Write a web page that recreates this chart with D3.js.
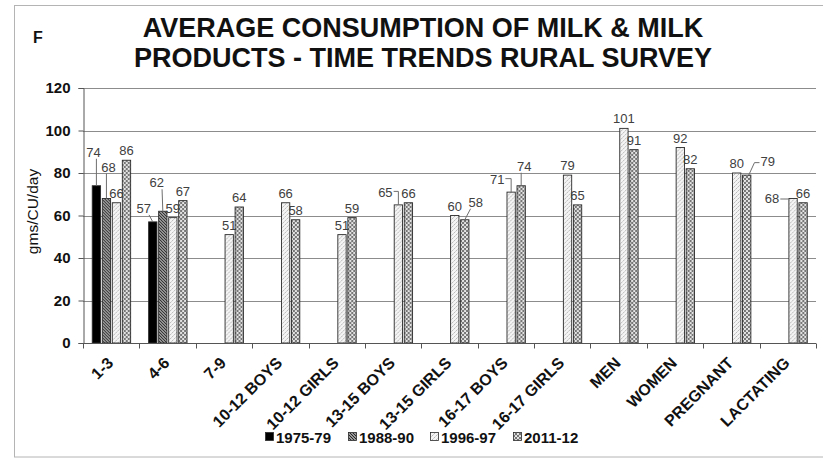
<!DOCTYPE html>
<html>
<head>
<meta charset="utf-8">
<script src="https://cdn.jsdelivr.net/npm/d3@7/dist/d3.min.js"></script>
<style>
  html, body { margin: 0; padding: 0; background: #fff; }
  svg { display: block; font-family: "Liberation Sans", Arial, sans-serif; }
</style>
</head>
<body>
<svg id="chart" width="823" height="461"></svg>
<script>
// Age / physiological groups on the x axis
const categories = ["1-3", "4-6", "7-9", "10-12 BOYS", "10-12 GIRLS", "13-15 BOYS",
  "13-15 GIRLS", "16-17 BOYS", "16-17 GIRLS", "MEN", "WOMEN", "PREGNANT", "LACTATING"];

// Survey rounds
const surveys = ["1975-79", "1988-90", "1996-97", "2011-12"];

// Consumption, gms/CU/day (null = group not covered in that survey)
const s1975 = [74, 57, null, null, null, null, null, null, null, null, null, null, null];
const s1988 = [68, 62, null, null, null, null, null, null, null, null, null, null, null];
const s1996 = [66, 59, 51, 66, 51, 65, 60, 71, 79, 101, 92, 80, 68];
const s2011 = [86, 67, 64, 58, 59, 66, 58, 74, 65, 91, 82, 79, 66];

const yTicks = [0, 20, 40, 60, 80, 100, 120];

const seriesValues = [s1975, s1988, s1996, s2011];

// Labels that sit away from their bar, joined to it by a leader line
const labelNudge = {
  "1-3|1975-79":        { dx: -3,  dy: -29, leader: "straight" },
  "1-3|1988-90":        { dx: 2,   dy: -27, leader: "straight" },
  "4-6|1975-79":        { dx: -9,  dy: -9,  leader: "straight" },
  "4-6|1988-90":        { dx: -6,  dy: -24, leader: "straight" },
  "13-15 BOYS|1996-97": { dx: -13, dy: -8,  leader: "elbow" },
  "13-15 GIRLS|2011-12":{ dx: 11,  dy: -13, leader: "straight" },
  "16-17 BOYS|1996-97": { dx: -14, dy: -8,  leader: "elbow" },
  "16-17 BOYS|2011-12": { dx: 3,   dy: -15, leader: "straight" },
  "PREGNANT|2011-12":   { dx: 21,  dy: -9,  leader: "bend" },
  "LACTATING|1996-97":  { dx: -21, dy: 4,   leader: "side" }
};

const svg = d3.select("#chart");
const W = 823, H = 461;
const margin = { left: 83, right: 7, top: 88, bottom: 118 };

// outer frame
svg.append("rect").attr("x", 14.5).attr("y", 5.5).attr("width", W).attr("height", 451.5)
  .attr("fill", "#fff").attr("stroke", "#b4b4b4").attr("stroke-width", 1);

// fill patterns
const defs = svg.append("defs");
const pHatch = defs.append("pattern").attr("id", "p1988").attr("patternUnits", "userSpaceOnUse")
  .attr("width", 3).attr("height", 3);
pHatch.append("rect").attr("width", 3).attr("height", 3).attr("fill", "#cfcfcf");
pHatch.append("path").attr("d", "M0,0 L3,3 M-1,2 L1,4 M2,-1 L4,1")
  .attr("stroke", "#222").attr("stroke-width", 1.2);

const pLight = defs.append("pattern").attr("id", "p1996").attr("patternUnits", "userSpaceOnUse")
  .attr("width", 4).attr("height", 4);
pLight.append("rect").attr("width", 4).attr("height", 4).attr("fill", "#f4f4f4");
pLight.append("rect").attr("x", 0).attr("y", 0).attr("width", 1).attr("height", 1).attr("fill", "#b8b8b8");
pLight.append("rect").attr("x", 2).attr("y", 2).attr("width", 1).attr("height", 1).attr("fill", "#b8b8b8");
pLight.append("rect").attr("x", 1).attr("y", 3).attr("width", 1).attr("height", 1).attr("fill", "#d0d0d0");
pLight.append("rect").attr("x", 3).attr("y", 1).attr("width", 1).attr("height", 1).attr("fill", "#d0d0d0");

const pCheck = defs.append("pattern").attr("id", "p2011").attr("patternUnits", "userSpaceOnUse")
  .attr("width", 4).attr("height", 4);
pCheck.append("rect").attr("width", 4).attr("height", 4).attr("fill", "#767676");
pCheck.append("circle").attr("cx", 1).attr("cy", 1).attr("r", 1.05).attr("fill", "#f2f2f2");
pCheck.append("circle").attr("cx", 3).attr("cy", 3).attr("r", 1.05).attr("fill", "#f2f2f2");

const fills = { "1975-79": "#000", "1988-90": "url(#p1988)", "1996-97": "url(#p1996)", "2011-12": "url(#p2011)" };

// scales
const x0 = d3.scaleBand().domain(categories)
  .range([margin.left, W - margin.right]).paddingInner(0.31).paddingOuter(0.155);
const x1 = d3.scaleBand().domain(surveys).range([0, x0.bandwidth()]).paddingInner(0.12);
const y = d3.scaleLinear().domain([0, 120]).range([H - margin.bottom, margin.top]);

const plotL = margin.left, plotR = W - margin.right;

// gridlines
svg.append("g").selectAll("line").data(yTicks.filter(t => t > 0)).join("line")
  .attr("x1", plotL).attr("x2", plotR)
  .attr("y1", d => Math.round(y(d)) + 0.5).attr("y2", d => Math.round(y(d)) + 0.5)
  .attr("stroke", "#8c8c8c").attr("stroke-width", 1);

// y axis
const yAxis = svg.append("g").attr("transform", `translate(${plotL + 0.5},0)`)
  .call(d3.axisLeft(y).tickValues(yTicks).tickSize(5).tickPadding(8).tickFormat(d3.format("d")));
yAxis.selectAll("text").attr("font-size", 15).attr("font-weight", "bold").attr("fill", "#111")
  .attr("font-family", "Liberation Sans, Arial, sans-serif");
yAxis.selectAll("line").attr("stroke", "#555");
yAxis.select(".domain").attr("stroke", "#555");

// bars
const rows = categories.map((c, i) => ({ cat: c, vals: surveys.map((s, j) => ({ s, v: seriesValues[j][i] })) }));
const groups = svg.append("g").selectAll("g").data(rows).join("g")
  .attr("transform", d => `translate(${x0(d.cat)},0)`);
groups.selectAll("rect").data(d => d.vals.filter(e => e.v != null)).join("rect")
  .attr("x", d => x1(d.s) + 0.5)
  .attr("y", d => y(d.v))
  .attr("width", x1.bandwidth() - 0.5)
  .attr("height", d => y(0) - y(d.v))
  .attr("fill", d => fills[d.s])
  .attr("stroke", "#2b2b2b").attr("stroke-width", 0.9);

// x axis: baseline and category boundary ticks
const xAxisG = svg.append("g").attr("transform", `translate(0,${Math.round(y(0)) + 0.5})`);
xAxisG.append("line").attr("x1", plotL).attr("x2", plotR).attr("stroke", "#555");
const edges = [plotL].concat(categories.map((c, i) => plotL + x0.step() * (i + 1)));
xAxisG.selectAll("line.tk").data(edges).join("line").attr("class", "tk")
  .attr("x1", d => Math.round(d) + 0.5).attr("x2", d => Math.round(d) + 0.5)
  .attr("y1", 0).attr("y2", 5).attr("stroke", "#555");

svg.append("g").selectAll("text").data(categories).join("text")
  .attr("transform", d => `translate(${x0(d) + x0.bandwidth() / 2 + 3},${y(0) + 21}) rotate(-45)`)
  .attr("text-anchor", "end")
  .attr("font-size", 16).attr("font-weight", "bold").attr("fill", "#111")
  .text(d => d);

// data labels
const labelLayer = svg.append("g");
rows.forEach(r => {
  r.vals.forEach(e => {
    if (e.v == null) return;
    const bx = x0(r.cat) + x1(e.s) + x1.bandwidth() / 2 + 0.25;
    const top = y(e.v);
    const n = labelNudge[r.cat + "|" + e.s];
    const lx = bx + (n ? n.dx : 0);
    const ly = top + (n ? n.dy : -5);
    const t = labelLayer.append("text").attr("x", lx).attr("y", ly)
      .attr("text-anchor", "middle").attr("font-size", 13).attr("fill", "#404040").text(e.v);
    if (!n) return;
    const bb = t.node().getBBox();
    const midY = bb.y + bb.height / 2 + 1;
    let pts;
    if (n.leader === "elbow") {
      pts = [[bb.x + bb.width + 1, midY - 2], [bx, midY - 2], [bx, top]];
    } else if (n.leader === "bend") {
      pts = [[bb.x - 1, midY], [bb.x - 6, midY], [bx + 2, top]];
    } else if (n.leader === "side") {
      pts = [[bb.x + bb.width + 1, midY], [bx - x1.bandwidth() / 2, midY]];
    } else {
      const sx = Math.max(bb.x + 2, Math.min(bb.x + bb.width - 2, bx));
      const sy = bb.y + bb.height - 1;
      pts = [[sx, sy], [bx, top]];
    }
    labelLayer.append("path").attr("d", d3.line()(pts))
      .attr("fill", "none").attr("stroke", "#6e6e6e").attr("stroke-width", 1);
  });
});

// y axis title
svg.append("text").attr("transform", `translate(38,${(y(0) + y(120)) / 2 - 4}) rotate(-90)`)
  .attr("text-anchor", "middle").attr("font-size", 15.5).attr("fill", "#111").text("gms/CU/day");

// title
const title = svg.append("text").attr("text-anchor", "middle").attr("font-size", 27)
  .attr("font-weight", "bold").attr("fill", "#111");
title.append("tspan").attr("x", 423).attr("y", 37).text("AVERAGE CONSUMPTION OF MILK & MILK");
title.append("tspan").attr("x", 423).attr("y", 67).text("PRODUCTS - TIME TRENDS RURAL SURVEY");

svg.append("text").attr("x", 33).attr("y", 43).attr("font-size", 16).attr("font-weight", "bold")
  .attr("fill", "#111").text("F");

// legend
const legendX = [265, 348, 430, 513];
const legend = svg.append("g").selectAll("g").data(surveys).join("g")
  .attr("transform", (d, i) => `translate(${legendX[i]},437)`);
legend.append("rect").attr("x", 0.5).attr("y", -4.5).attr("width", 8).attr("height", 8)
  .attr("fill", d => fills[d]).attr("stroke", "#2b2b2b").attr("stroke-width", 0.8);
legend.append("text").attr("x", 11).attr("y", 5.5).attr("font-size", 15).attr("font-weight", "bold")
  .attr("fill", "#111").text(d => d);
</script>
</body>
</html>
